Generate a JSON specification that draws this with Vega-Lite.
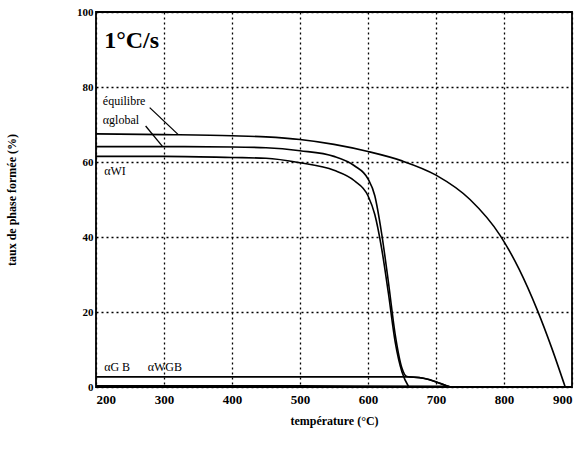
{
  "$schema": "https://vega.github.io/schema/vega-lite/v6.json",
  "autosize": {"type": "none"},
  "width": 476,
  "height": 375,
  "padding": {"left": 96, "top": 12, "right": 13, "bottom": 71},
  "background": "white",
  "config": {
    "view": {"stroke": "black", "strokeWidth": 1.8},
    "font": "Liberation Serif",
    "axis": {
      "domain": false,
      "ticks": false,
      "grid": true,
      "gridColor": "black",
      "gridDash": [2, 3],
      "gridWidth": 1.3,
      "gridOpacity": 1,
      "labelFont": "Liberation Serif",
      "labelFontWeight": "bold",
      "labelColor": "black",
      "titleFont": "Liberation Serif",
      "titleFontWeight": "bold",
      "titleFontSize": 12,
      "titleColor": "black"
    }
  },
  "datasets": {
    "curves": [
      {"serie": "equilibre", "T": 200, "v": 67.5},
      {"serie": "equilibre", "T": 300, "v": 67.3},
      {"serie": "equilibre", "T": 400, "v": 67.0},
      {"serie": "equilibre", "T": 450, "v": 66.7},
      {"serie": "equilibre", "T": 500, "v": 66.0},
      {"serie": "equilibre", "T": 550, "v": 64.7},
      {"serie": "equilibre", "T": 600, "v": 62.8},
      {"serie": "equilibre", "T": 650, "v": 60.3},
      {"serie": "equilibre", "T": 700, "v": 56.5},
      {"serie": "equilibre", "T": 750, "v": 50.0},
      {"serie": "equilibre", "T": 794, "v": 40.5},
      {"serie": "equilibre", "T": 822, "v": 31.5},
      {"serie": "equilibre", "T": 849, "v": 20.5},
      {"serie": "equilibre", "T": 870, "v": 10.5},
      {"serie": "equilibre", "T": 890, "v": 0.0},
      {"serie": "global", "T": 200, "v": 64.1},
      {"serie": "global", "T": 300, "v": 64.1},
      {"serie": "global", "T": 400, "v": 64.0},
      {"serie": "global", "T": 450, "v": 63.8},
      {"serie": "global", "T": 500, "v": 63.0},
      {"serie": "global", "T": 550, "v": 61.5},
      {"serie": "global", "T": 580, "v": 59.0},
      {"serie": "global", "T": 600, "v": 55.5},
      {"serie": "global", "T": 610, "v": 51.0},
      {"serie": "global", "T": 620, "v": 41.0},
      {"serie": "global", "T": 630, "v": 28.0},
      {"serie": "global", "T": 640, "v": 14.0},
      {"serie": "global", "T": 650, "v": 5.0},
      {"serie": "global", "T": 657, "v": 2.8},
      {"serie": "global", "T": 680, "v": 2.4},
      {"serie": "global", "T": 700, "v": 1.4},
      {"serie": "global", "T": 720, "v": 0.0},
      {"serie": "WI", "T": 200, "v": 61.5},
      {"serie": "WI", "T": 300, "v": 61.5},
      {"serie": "WI", "T": 400, "v": 61.2},
      {"serie": "WI", "T": 450, "v": 61.0},
      {"serie": "WI", "T": 500, "v": 59.8},
      {"serie": "WI", "T": 550, "v": 57.8},
      {"serie": "WI", "T": 580, "v": 55.0},
      {"serie": "WI", "T": 600, "v": 51.0},
      {"serie": "WI", "T": 610, "v": 46.0},
      {"serie": "WI", "T": 620, "v": 37.0},
      {"serie": "WI", "T": 630, "v": 25.0},
      {"serie": "WI", "T": 640, "v": 12.0},
      {"serie": "WI", "T": 650, "v": 4.0},
      {"serie": "WI", "T": 660, "v": 0.0},
      {"serie": "GB", "T": 200, "v": 2.7},
      {"serie": "GB", "T": 400, "v": 2.7},
      {"serie": "GB", "T": 600, "v": 2.7},
      {"serie": "GB", "T": 660, "v": 2.7},
      {"serie": "GB", "T": 675, "v": 2.5},
      {"serie": "GB", "T": 690, "v": 2.0},
      {"serie": "GB", "T": 705, "v": 1.0},
      {"serie": "GB", "T": 720, "v": 0.0},
      {"serie": "WGB", "T": 200, "v": 0.3},
      {"serie": "WGB", "T": 500, "v": 0.3},
      {"serie": "WGB", "T": 720, "v": 0.2}
    ],
    "labels": [
      {"txt": "équilibre", "T": 210, "v": 76.3},
      {"txt": "αglobal", "T": 210, "v": 71.2},
      {"txt": "αWI", "T": 212, "v": 57.6},
      {"txt": "αG B", "T": 212, "v": 5.3},
      {"txt": "αWGB", "T": 276, "v": 5.3}
    ],
    "leaders": [
      {"T": 279, "v": 74.5, "T2": 321, "v2": 67.3},
      {"T": 273, "v": 69.6, "T2": 298, "v2": 64.1}
    ],
    "title": [
      {"txt": "1°C/s", "T": 212, "v": 92.3}
    ]
  },
  "layer": [
    {
      "data": {"name": "curves"},
      "mark": {"type": "line", "color": "black", "strokeWidth": 1.6, "clip": true, "interpolate": "monotone"},
      "encoding": {
        "x": {
          "field": "T", "type": "quantitative",
          "scale": {"domain": [200, 900], "nice": false},
          "axis": {"values": [200, 300, 400, 500, 600, 700, 800, 900], "labelFontSize": 13, "labelPadding": 6, "title": "température (°C)", "titlePadding": 9}
        },
        "y": {
          "field": "v", "type": "quantitative",
          "scale": {"domain": [0, 100], "nice": false},
          "axis": {"values": [0, 20, 40, 60, 80, 100], "labelFontSize": 11, "labelPadding": 3, "title": "taux de phase formée (%)", "titlePadding": 58}
        },
        "detail": {"field": "serie"}
      }
    },
    {
      "data": {"name": "leaders"},
      "mark": {"type": "rule", "color": "black", "strokeWidth": 1.3},
      "encoding": {
        "x": {"field": "T", "type": "quantitative"},
        "y": {"field": "v", "type": "quantitative"},
        "x2": {"field": "T2"},
        "y2": {"field": "v2"}
      }
    },
    {
      "data": {"name": "labels"},
      "mark": {"type": "text", "align": "left", "baseline": "middle", "font": "Liberation Serif", "fontSize": 12, "color": "black"},
      "encoding": {
        "x": {"field": "T", "type": "quantitative"},
        "y": {"field": "v", "type": "quantitative"},
        "text": {"field": "txt"}
      }
    },
    {
      "data": {"name": "title"},
      "mark": {"type": "text", "align": "left", "baseline": "middle", "font": "Liberation Serif", "fontSize": 24, "fontWeight": "bold", "color": "black"},
      "encoding": {
        "x": {"field": "T", "type": "quantitative"},
        "y": {"field": "v", "type": "quantitative"},
        "text": {"field": "txt"}
      }
    }
  ]
}
